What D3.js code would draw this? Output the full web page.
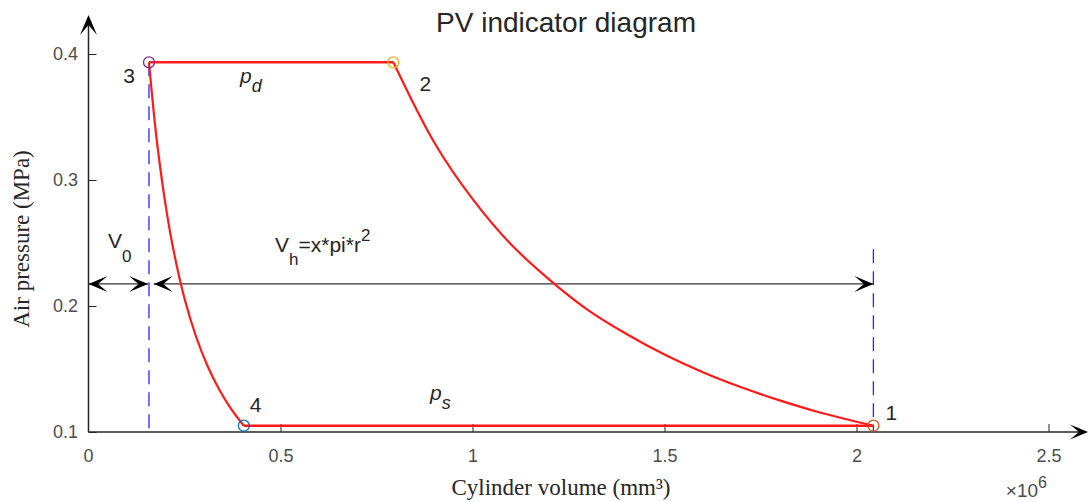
<!DOCTYPE html>
<html>
<head>
<meta charset="utf-8">
<script src="https://cdn.jsdelivr.net/npm/d3@7"></script>
<style>
  body { margin: 0; background: #fff; }
  svg { display: block; }
</style>
</head>
<body>
<svg id="chart" width="1089" height="502"></svg>
<script>
// values (volume in mm3, pressure in MPa)
const pointNames = ['1', '2', '3', '4']
const pointV = [2.044e6, 0.794e6, 0.1575e6, 0.4045e6]
const pointP = [0.105, 0.3934, 0.3934, 0.105]
const pointColors = ['#D95319', '#EDB120', '#7E2F8E', '#0072BD']

// 1 -> 2 compression curve
const compV = [2.044e6, 1.9e6, 1.8e6, 1.7e6, 1.6e6, 1.5e6, 1.4e6, 1.3e6, 1.2e6, 1.1e6, 1.0e6, 0.9e6, 0.794e6]
const compP = [0.105, 0.1159, 0.1251, 0.1355, 0.1475, 0.1615, 0.178, 0.197, 0.221, 0.249, 0.285, 0.330, 0.3934]
// 3 -> 4 re-expansion curve
const expV = [0.1575e6, 0.17e6, 0.18e6, 0.2e6, 0.22e6, 0.25e6, 0.28e6, 0.31e6, 0.34e6, 0.37e6, 0.4045e6]
const expP = [0.3934, 0.3535, 0.326, 0.2816, 0.2464, 0.206, 0.1758, 0.1524, 0.134, 0.119, 0.105]

const xTicks = [0, 0.5e6, 1e6, 1.5e6, 2e6, 2.5e6]
const yTicks = [0.1, 0.2, 0.3, 0.4]

// dimension arrows and dashed guides
const arrowP = 0.2175
const v0Arrow = [0, 0.155e6]
const vhArrow = [0.17e6, 2.044e6]
const guideV = [0.1575e6, 2.044e6]
const guideTop = [0.3934, 0.245]

const svg = d3.select('#chart')
const red = '#ff1a1a'
const axisColor = '#262626'
const labelColor = '#4d4d4d'
const sans = '"Liberation Sans", Arial, sans-serif'
const serif = '"Liberation Serif", "Times New Roman", serif'

const x = d3.scaleLinear().domain([0, 2.5e6]).range([88.5, 1048.5])
const y = d3.scaleLinear().domain([0.1, 0.4]).range([432, 54])

// arrow head, tip at (0,0) pointing to +x
const head = (L, w) => `M0,0 L${-L},${-w} L${-L * 0.5},0 L${-L},${w} Z`

// axes
const xAxis = d3.axisBottom(x).tickValues(xTicks.slice(1)).tickSizeInner(-8).tickSizeOuter(0).tickPadding(17)
	.tickFormat(d => d3.format('~g')(d / 1e6))
const yAxis = d3.axisLeft(y).tickValues(yTicks).tickSizeInner(-8).tickSizeOuter(0).tickPadding(10.5)
	.tickFormat(d3.format('.1f'))

svg.append('g').attr('transform', `translate(0,${y(0.1)})`).call(xAxis)
svg.append('g').attr('transform', `translate(${x(0)},0)`).call(yAxis)
svg.selectAll('path.domain').remove()
svg.selectAll('.tick line').attr('stroke', axisColor).attr('stroke-width', 1)
svg.selectAll('.tick text').attr('fill', labelColor).style('font-family', sans).style('font-size', '18px')

// x = 0 label sits under the origin
svg.append('text')
	.attr('x', x(0)).attr('y', y(0.1) + 30)
	.attr('text-anchor', 'middle')
	.attr('fill', labelColor).style('font-family', sans).style('font-size', '18px')
	.text('0')

// axis lines with arrows
svg.append('line')
	.attr('x1', x(0)).attr('x2', 1082).attr('y1', y(0.1)).attr('y2', y(0.1))
	.attr('stroke', axisColor).attr('stroke-width', 1.5)
svg.append('path').attr('d', head(18, 7.5)).attr('transform', `translate(1088,${y(0.1)})`).attr('fill', '#000')
svg.append('line')
	.attr('x1', x(0)).attr('x2', x(0)).attr('y1', y(0.1)).attr('y2', 22)
	.attr('stroke', axisColor).attr('stroke-width', 1.5)
svg.append('path').attr('d', head(20, 8.5)).attr('transform', `translate(${x(0)},15) rotate(-90)`).attr('fill', '#000')

// dashed guide lines
guideV.forEach((v, i) => {
	svg.append('line')
		.attr('x1', x(v)).attr('x2', x(v)).attr('y1', y(guideTop[i])).attr('y2', y(0.1))
		.attr('stroke', '#2626ff').attr('stroke-width', 1.3)
		.attr('stroke-dasharray', '14,8')
})

// dimension arrows
const dimArrow = ([a, b]) => {
	svg.append('line')
		.attr('x1', x(a)).attr('x2', x(b)).attr('y1', y(arrowP)).attr('y2', y(arrowP))
		.attr('stroke', '#333').attr('stroke-width', 1.2)
	svg.append('path').attr('d', head(19, 8)).attr('transform', `translate(${x(b)},${y(arrowP)})`).attr('fill', '#000')
	svg.append('path').attr('d', head(19, 8)).attr('transform', `translate(${x(a)},${y(arrowP)}) rotate(180)`).attr('fill', '#000')
}
dimArrow(v0Arrow)
dimArrow(vhArrow)

// cycle
const line = d3.line().x(d => x(d[0])).y(d => y(d[1]))
const smooth = d3.line().x(d => x(d[0])).y(d => y(d[1])).curve(d3.curveCatmullRom)
const comp = compV.map((v, i) => [v, compP[i]])
const expn = expV.map((v, i) => [v, expP[i]])

svg.append('path').attr('d', smooth(comp)).attr('fill', 'none').attr('stroke', red).attr('stroke-width', 2.2)
svg.append('path').attr('d', smooth(expn)).attr('fill', 'none').attr('stroke', red).attr('stroke-width', 2.2)
svg.append('path').attr('d', line([[pointV[1], pointP[1]], [pointV[2], pointP[2]]]))
	.attr('fill', 'none').attr('stroke', red).attr('stroke-width', 2.4)
svg.append('path').attr('d', line([[pointV[3], pointP[3]], [pointV[0], pointP[0]]]))
	.attr('fill', 'none').attr('stroke', red).attr('stroke-width', 2.6)

// state points
const labelOffset = [[12, -6, 'start'], [26, 29, 'start'], [-14, 21, 'end'], [6, -14, 'start']]
pointNames.forEach((n, i) => {
	svg.append('circle')
		.attr('cx', x(pointV[i])).attr('cy', y(pointP[i])).attr('r', 5.5)
		.attr('fill', 'none').attr('stroke', pointColors[i]).attr('stroke-width', 1.3)
	svg.append('text')
		.attr('x', x(pointV[i]) + labelOffset[i][0]).attr('y', y(pointP[i]) + labelOffset[i][1])
		.attr('text-anchor', labelOffset[i][2])
		.attr('fill', '#262626').style('font-family', sans).style('font-size', '21px')
		.text(n)
})

// annotations
const note = (px, py) => svg.append('text').attr('x', px).attr('y', py)
	.attr('fill', '#262626').style('font-family', sans).style('font-size', '21px')

const pd = note(240, 83)
pd.append('tspan').style('font-style', 'italic').text('p')
pd.append('tspan').attr('dy', 9).style('font-size', '18px').style('font-style', 'italic').text('d')

const ps = note(430, 400)
ps.append('tspan').style('font-style', 'italic').text('p')
ps.append('tspan').attr('dy', 9).style('font-size', '18px').style('font-style', 'italic').text('s')

const v0 = note(108, 248)
v0.append('tspan').text('V')
v0.append('tspan').attr('dy', 14).style('font-size', '17px').text('0')

const vh = note(275, 252)
vh.append('tspan').text('V')
vh.append('tspan').attr('dy', 13).style('font-size', '17px').text('h')
vh.append('tspan').attr('dy', -13).text('=x*pi*r')
vh.append('tspan').attr('dy', -11).style('font-size', '17px').text('2')

// title and axis labels
svg.append('text')
	.attr('x', 566).attr('y', 32).attr('text-anchor', 'middle')
	.attr('fill', '#262626').style('font-family', sans).style('font-size', '28px')
	.text('PV indicator diagram')

svg.append('text')
	.attr('x', 561).attr('y', 495).attr('text-anchor', 'middle')
	.attr('fill', '#262626').style('font-family', serif).style('font-size', '23px')
	.text('Cylinder volume (mm³)')

svg.append('text')
	.attr('transform', 'translate(28.5,239) rotate(-90)').attr('text-anchor', 'middle')
	.attr('fill', '#262626').style('font-family', serif).style('font-size', '23px')
	.text('Air pressure (MPa)')

const exp10 = svg.append('text').attr('x', 1047).attr('y', 497).attr('text-anchor', 'end')
	.attr('fill', labelColor).style('font-family', sans).style('font-size', '19px')
exp10.append('tspan').text('×10')
exp10.append('tspan').attr('dy', -9).style('font-size', '16px').text('6')
</script>
</body>
</html>
